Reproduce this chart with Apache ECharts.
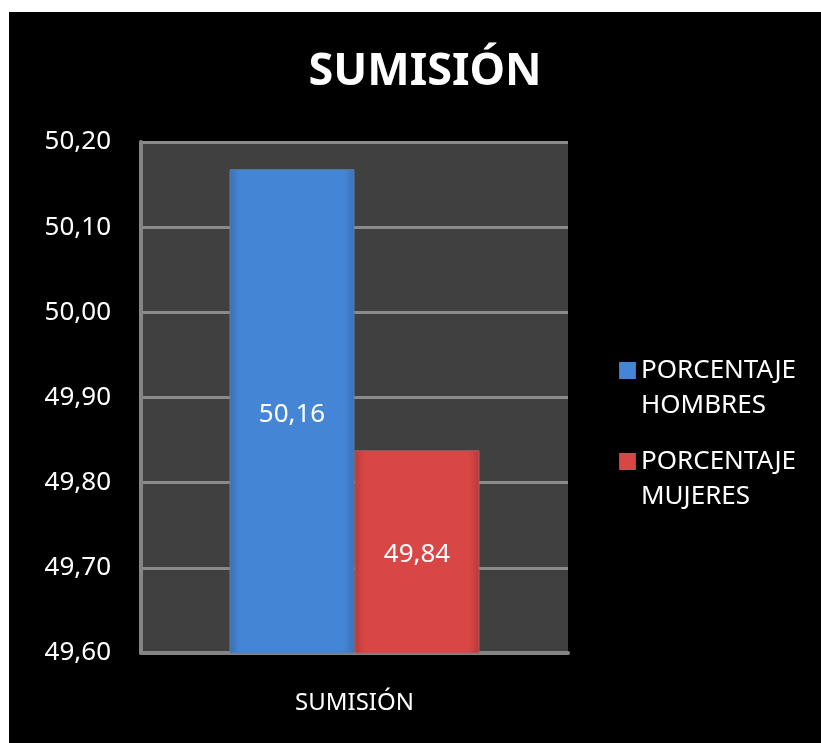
<!DOCTYPE html>
<html>
<head>
<meta charset="utf-8">
<script src="https://cdn.jsdelivr.net/npm/echarts@6/dist/echarts.min.js"></script>
<style>
  html, body { margin: 0; padding: 0; background: #fff; }
  #chart { position: absolute; left: 9px; top: 12px; width: 812px; height: 731px; }
</style>
</head>
<body>
<div id="chart"></div>
<script>
const categories = ["SUMISIÓN"];
const seriesNames = ["PORCENTAJE HOMBRES", "PORCENTAJE MUJERES"];
const hombres = [50.168];
const mujeres = [49.838];
const valueLabels = [["50,16"], ["49,84"]];
const yTicks = { min: 49.6, max: 50.2, interval: 0.1 };

const font = "'Noto Sans', 'Open Sans', sans-serif";

function grad(edge, mid) {
  return new echarts.graphic.LinearGradient(0, 0, 1, 0, [
    { offset: 0, color: edge },
    { offset: 0.08, color: mid },
    { offset: 0.92, color: mid },
    { offset: 1, color: edge }
  ]);
}

const chart = echarts.init(document.getElementById("chart"));
const options = {
  backgroundColor: "#000",
  animation: false,
  color: ["#4585d6", "#d94646"],
  title: {
    text: "SUMISIÓN",
    left: 411,
    textAlign: "center",
    top: 33,
    textStyle: { color: "#fff", fontSize: 45, fontWeight: "bold", fontFamily: font }
  },
  legend: {
    orient: "vertical",
    left: 605,
    top: 301,
    itemWidth: 17,
    itemHeight: 17,
    itemGap: -14,
    icon: "rect",
    itemStyle: { borderWidth: 0 },
    // linea en blanco arriba para que el icono quede a la altura de la primera linea
    formatter: (name) => "\n" + name.replace(" ", "\n"),
    textStyle: { color: "#fff", fontSize: 26, fontFamily: font, lineHeight: 35 }
  },
  grid: { left: 132, top: 130, right: 253, bottom: 90, show: true, backgroundColor: "#404040", borderWidth: 0 },
  xAxis: {
    type: "category",
    data: categories,
    axisLine: { lineStyle: { color: "#858585", width: 4 } },
    axisTick: { show: false },
    axisLabel: { color: "#fff", fontSize: 24, fontFamily: font, margin: 38 }
  },
  yAxis: {
    type: "value",
    min: yTicks.min,
    max: yTicks.max,
    interval: yTicks.interval,
    axisLine: { show: true, lineStyle: { color: "#858585", width: 4 } },
    axisTick: { show: false },
    splitLine: { lineStyle: { color: "#8a8a8a", width: 3 } },
    axisLabel: {
      color: "#fff", fontSize: 26, fontFamily: font, margin: 30,
      formatter: (v) => v.toFixed(2).replace(".", ",")
    }
  },
  series: [
    {
      name: seriesNames[0],
      type: "bar",
      data: hombres,
      barWidth: 125,
      barGap: "0%",
      itemStyle: { color: grad("#3a70b8", "#4585d6"), borderColor: "#5a7fa8", borderWidth: 1 },
      label: {
        show: true, position: "inside", offset: [0, 3], color: "#fff", fontSize: 26, fontFamily: font,
        formatter: (p) => valueLabels[0][p.dataIndex]
      }
    },
    {
      name: seriesNames[1],
      type: "bar",
      data: mujeres,
      barWidth: 125,
      itemStyle: { color: grad("#b83a3a", "#d94646"), borderColor: "#a86060", borderWidth: 1 },
      label: {
        show: true, position: "inside", offset: [0, 3], color: "#fff", fontSize: 26, fontFamily: font,
        formatter: (p) => valueLabels[1][p.dataIndex]
      }
    }
  ]
};
chart.setOption(options);
</script>
</body>
</html>
